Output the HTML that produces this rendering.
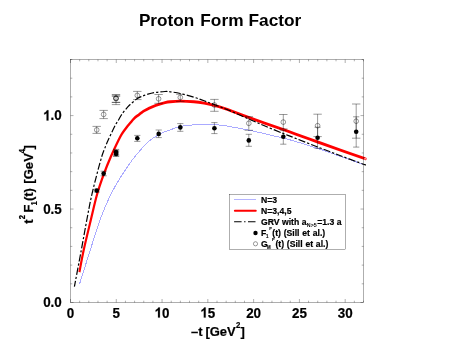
<!DOCTYPE html>
<html><head><meta charset="utf-8"><title>Proton Form Factor</title>
<style>
html,body{margin:0;padding:0;background:#fff;}
body{width:458px;height:354px;overflow:hidden;}
svg{display:block;will-change:transform;}
text{font-family:"Liberation Sans",sans-serif;font-weight:bold;fill:#000;}
</style></head><body>
<svg width="458" height="354" viewBox="0 0 458 354">
<rect width="458" height="354" fill="#fff"/>
<g font-size="17.3"><text transform="translate(138.9,26.4) scale(0.992,1)">Proton</text><text x="200.3" y="26.4">Form</text><text x="248.5" y="26.4">Factor</text></g>
<path d="M79.40 284.40 C81.22 278.67 86.87 260.73 90.30 250.00 C93.73 239.27 96.78 228.85 100.00 220.00 C103.22 211.15 106.10 204.13 109.60 196.90 C113.10 189.67 116.73 183.38 121.00 176.60 C125.27 169.82 130.35 162.27 135.20 156.20 C140.05 150.13 145.97 143.87 150.10 140.20 C154.23 136.53 157.52 135.62 160.00 134.20 C162.48 132.78 163.30 132.42 165.00 131.70 C166.70 130.98 167.65 130.77 170.20 129.90 C172.75 129.03 176.35 127.35 180.30 126.50 C184.25 125.65 189.93 125.17 193.90 124.80 C197.87 124.43 200.72 124.35 204.10 124.30 C207.48 124.25 210.72 124.25 214.20 124.50 C217.68 124.75 222.37 125.45 225.00 125.80 C227.63 126.15 226.05 125.88 230.00 126.60 C233.95 127.32 242.87 128.90 248.70 130.10 C254.53 131.30 259.20 132.45 265.00 133.80 C270.80 135.15 278.50 136.95 283.50 138.20 C288.50 139.45 289.30 139.60 295.00 141.30 C300.70 143.00 310.12 145.88 317.70 148.40 C325.28 150.92 332.87 153.72 340.50 156.40 C348.13 159.08 359.67 163.15 363.50 164.50" fill="none" stroke="#aaaaff" stroke-width="1" shape-rendering="crispEdges"/>
<g transform="scale(1,1.33)"><path d="M79.40 204.66 C80.12 201.88 81.80 194.51 83.70 187.97 C85.60 181.43 88.57 172.39 90.80 165.41 C93.03 158.43 94.92 151.87 97.10 146.09 C99.28 140.31 101.63 135.43 103.90 130.75 C106.17 126.08 108.25 122.29 110.70 118.05 C113.15 113.80 116.73 108.17 118.60 105.26 C120.47 102.36 120.55 102.21 121.90 100.60 C123.25 99.00 125.28 97.02 126.70 95.64 C128.12 94.26 129.18 93.41 130.40 92.33 C131.62 91.25 132.58 90.19 134.00 89.17 C135.42 88.16 137.33 87.17 138.90 86.24 C140.47 85.31 141.98 84.31 143.40 83.61 C144.82 82.91 145.33 82.77 147.40 82.03 C149.47 81.29 152.87 79.99 155.80 79.17 C158.73 78.36 162.60 77.59 165.00 77.14 C167.40 76.69 167.65 76.65 170.20 76.47 C172.75 76.28 176.35 76.02 180.30 76.02 C184.25 76.02 189.93 76.22 193.90 76.47 C197.87 76.72 200.72 77.06 204.10 77.52 C207.48 77.98 210.72 78.56 214.20 79.25 C217.68 79.94 222.37 81.03 225.00 81.65 C227.63 82.28 226.05 81.90 230.00 83.01 C233.95 84.11 239.78 85.85 248.70 88.27 C257.62 90.69 275.78 95.46 283.50 97.52 C291.22 99.57 289.30 99.06 295.00 100.60 C300.70 102.14 310.12 104.71 317.70 106.77 C325.28 108.82 332.87 110.91 340.50 112.93 C348.13 114.95 359.48 117.83 363.50 118.87 C367.52 119.91 364.42 119.12 364.60 119.17" fill="none" stroke="#ff0000" stroke-width="2.15"/></g>
<path d="M74.40 286.70 C75.55 280.58 79.23 261.12 81.30 250.00 C83.37 238.88 85.12 228.90 86.80 220.00 C88.48 211.10 89.70 204.28 91.40 196.60 C93.10 188.92 95.23 180.70 97.00 173.90 C98.77 167.10 100.55 160.45 102.00 155.80 C103.45 151.15 104.67 148.63 105.70 146.00 C106.73 143.37 106.65 143.37 108.20 140.00 C109.75 136.63 113.28 129.13 115.00 125.80 C116.72 122.47 117.35 121.93 118.50 120.00 C119.65 118.07 120.32 116.43 121.90 114.20 C123.48 111.97 126.45 108.37 128.00 106.60 C129.55 104.83 129.65 104.93 131.20 103.60 C132.75 102.27 135.50 99.82 137.30 98.60 C139.10 97.38 140.22 97.03 142.00 96.30 C143.78 95.57 145.70 94.85 148.00 94.20 C150.30 93.55 152.97 92.85 155.80 92.40 C158.63 91.95 162.60 91.60 165.00 91.50 C167.40 91.40 167.65 91.47 170.20 91.80 C172.75 92.13 176.35 92.60 180.30 93.50 C184.25 94.40 189.93 95.98 193.90 97.20 C197.87 98.42 200.72 99.58 204.10 100.80 C207.48 102.02 209.88 102.83 214.20 104.50 C218.52 106.17 224.25 108.38 230.00 110.80 C235.75 113.22 242.87 116.47 248.70 119.00 C254.53 121.53 259.20 123.57 265.00 126.00 C270.80 128.43 278.50 131.58 283.50 133.60 C288.50 135.62 289.30 135.87 295.00 138.10 C300.70 140.33 310.12 144.07 317.70 147.00 C325.28 149.93 332.87 152.83 340.50 155.70 C348.13 158.57 359.53 162.73 363.50 164.20 C367.47 165.67 364.17 164.45 364.30 164.50" fill="none" stroke="#000" stroke-width="1.2" stroke-dasharray="7.1 1.99 2.3 1.99" stroke-dashoffset="1.13"/>
<path d="M92.50 126.40h8.40M92.50 133.40h8.40M99.45 110.40h8.40M99.45 118.60h8.40M111.80 94.50h8.40M111.80 102.40h8.40M111.80 95.30h8.40M111.80 102.40h8.40M111.80 96.40h8.40M111.80 104.60h8.40M133.10 91.40h8.40M133.10 99.60h8.40M154.40 94.50h8.40M154.40 103.30h8.40M176.10 94.30h8.40M176.10 101.40h8.40M210.20 99.40h8.40M210.20 111.30h8.40M244.60 116.70h8.40M244.60 130.30h8.40M279.10 114.50h8.40M279.10 128.90h8.40M313.40 114.20h8.40M313.40 136.60h8.40M352.00 104.00h8.40M352.00 138.20h8.40M96.70 126.40V133.40M103.65 110.40V118.60M116.00 94.50V104.60M137.30 91.40V99.60M158.60 94.50V103.30M180.30 94.30V101.40M214.40 99.40V111.30M248.80 116.70V130.30M283.30 114.50V128.90M317.60 114.20V136.60M356.20 104.00V138.20M93.60 189.20h6.20M93.60 192.00h6.20M100.55 171.20h6.20M100.55 175.80h6.20M113.00 149.40h6.20M113.00 154.70h6.20M113.00 150.30h6.20M113.00 155.80h6.20M113.00 151.80h6.20M113.00 156.40h6.20M134.20 135.40h6.20M134.20 141.40h6.20M155.60 130.00h6.20M155.60 137.60h6.20M177.20 123.60h6.20M177.20 131.30h6.20M211.30 122.60h6.20M211.30 133.60h6.20M245.70 134.30h6.20M245.70 146.30h6.20M280.20 130.30h6.20M280.20 144.20h6.20M314.50 127.20h6.20M314.50 148.40h6.20M353.10 116.80h6.20M353.10 147.10h6.20M96.70 189.20V192.00M103.65 171.20V175.80M116.10 149.40V156.40M137.30 135.40V141.40M158.70 130.00V137.60M180.30 123.60V131.30M214.40 122.60V133.60M248.80 134.30V146.30M283.30 130.30V144.20M317.60 127.20V148.40M356.20 116.80V147.10" fill="none" stroke="#000" stroke-width="0.4"/>
<g fill="none" stroke="#000" stroke-width="0.4"><circle cx="96.70" cy="129.90" r="2.35"/><circle cx="103.65" cy="114.40" r="2.35"/><circle cx="116.00" cy="98.00" r="2.35"/><circle cx="116.00" cy="98.35" r="2.35"/><circle cx="116.00" cy="98.70" r="2.35"/><circle cx="137.30" cy="95.40" r="2.35"/><circle cx="158.60" cy="98.80" r="2.35"/><circle cx="180.30" cy="97.40" r="2.35"/><circle cx="214.40" cy="105.00" r="2.35"/><circle cx="248.80" cy="123.30" r="2.35"/><circle cx="283.30" cy="122.10" r="2.35"/><circle cx="317.60" cy="125.70" r="2.35"/><circle cx="356.20" cy="121.20" r="2.35"/></g>
<g fill="#000"><circle cx="96.70" cy="190.60" r="2.3"/><circle cx="103.65" cy="173.60" r="2.3"/><circle cx="116.10" cy="152.10" r="2.3"/><circle cx="116.10" cy="153.00" r="2.3"/><circle cx="116.10" cy="153.90" r="2.3"/><circle cx="137.30" cy="138.30" r="2.3"/><circle cx="158.70" cy="133.90" r="2.3"/><circle cx="180.30" cy="127.40" r="2.3"/><circle cx="214.40" cy="128.20" r="2.3"/><circle cx="248.80" cy="140.40" r="2.3"/><circle cx="283.30" cy="136.70" r="2.3"/><circle cx="317.60" cy="137.70" r="2.3"/><circle cx="356.20" cy="131.80" r="2.3"/></g>
<rect x="70.5" y="59.5" width="293.0" height="243.0" fill="none" stroke="#000" stroke-width="0.32"/>
<path d="M70.50 302.50v-3.50M70.50 59.50v3.50M79.66 302.50v-1.80M79.66 59.50v1.80M88.81 302.50v-1.80M88.81 59.50v1.80M97.97 302.50v-1.80M97.97 59.50v1.80M107.12 302.50v-1.80M107.12 59.50v1.80M116.28 302.50v-3.50M116.28 59.50v3.50M125.44 302.50v-1.80M125.44 59.50v1.80M134.59 302.50v-1.80M134.59 59.50v1.80M143.75 302.50v-1.80M143.75 59.50v1.80M152.91 302.50v-1.80M152.91 59.50v1.80M162.06 302.50v-3.50M162.06 59.50v3.50M171.22 302.50v-1.80M171.22 59.50v1.80M180.38 302.50v-1.80M180.38 59.50v1.80M189.53 302.50v-1.80M189.53 59.50v1.80M198.69 302.50v-1.80M198.69 59.50v1.80M207.84 302.50v-3.50M207.84 59.50v3.50M217.00 302.50v-1.80M217.00 59.50v1.80M226.16 302.50v-1.80M226.16 59.50v1.80M235.31 302.50v-1.80M235.31 59.50v1.80M244.47 302.50v-1.80M244.47 59.50v1.80M253.62 302.50v-3.50M253.62 59.50v3.50M262.78 302.50v-1.80M262.78 59.50v1.80M271.94 302.50v-1.80M271.94 59.50v1.80M281.09 302.50v-1.80M281.09 59.50v1.80M290.25 302.50v-1.80M290.25 59.50v1.80M299.41 302.50v-3.50M299.41 59.50v3.50M308.56 302.50v-1.80M308.56 59.50v1.80M317.72 302.50v-1.80M317.72 59.50v1.80M326.88 302.50v-1.80M326.88 59.50v1.80M336.03 302.50v-1.80M336.03 59.50v1.80M345.19 302.50v-3.50M345.19 59.50v3.50M354.34 302.50v-1.80M354.34 59.50v1.80M363.50 302.50v-1.80M363.50 59.50v1.80M70.50 302.50h3.00M363.50 302.50h-3.00M70.50 283.81h1.80M363.50 283.81h-1.80M70.50 265.12h1.80M363.50 265.12h-1.80M70.50 246.42h1.80M363.50 246.42h-1.80M70.50 227.73h1.80M363.50 227.73h-1.80M70.50 209.04h3.00M363.50 209.04h-3.00M70.50 190.35h1.80M363.50 190.35h-1.80M70.50 171.65h1.80M363.50 171.65h-1.80M70.50 152.96h1.80M363.50 152.96h-1.80M70.50 134.27h1.80M363.50 134.27h-1.80M70.50 115.58h3.00M363.50 115.58h-3.00M70.50 96.88h1.80M363.50 96.88h-1.80M70.50 78.19h1.80M363.50 78.19h-1.80M70.50 59.50h1.80M363.50 59.50h-1.80" fill="none" stroke="#000" stroke-width="0.32"/>
<g font-size="13" stroke="#000" stroke-width="0.2"><text font-size="13.4" transform="translate(66.77,317.60) scale(1,1.050)">0</text><text font-size="13.4" transform="translate(112.56,317.60) scale(1,1.050)">5</text><path transform="translate(154.61,317.60) scale(0.01340,-0.01407)" d="M393.6 0L256.3 0L256.3 517Q181 446.8 79.1 413L79.1 537.6Q132.8 555.2 195.8 604.2Q258.8 653.3 282.2 718.75L393.6 718.75Z" fill="#000" stroke="#000" stroke-width="15"/><text font-size="13.4" transform="translate(162.06,317.60) scale(1,1.050)">0</text><path transform="translate(200.39,317.60) scale(0.01340,-0.01407)" d="M393.6 0L256.3 0L256.3 517Q181 446.8 79.1 413L79.1 537.6Q132.8 555.2 195.8 604.2Q258.8 653.3 282.2 718.75L393.6 718.75Z" fill="#000" stroke="#000" stroke-width="15"/><text font-size="13.4" transform="translate(207.84,317.60) scale(1,1.050)">5</text><text font-size="13.4" transform="translate(246.17,317.60) scale(1,1.050)">20</text><text font-size="13.4" transform="translate(291.96,317.60) scale(1,1.050)">25</text><text font-size="13.4" transform="translate(337.74,317.60) scale(1,1.050)">30</text><text font-size="13.4" transform="translate(43.17,307.35) scale(1,1.050)">0.0</text><text font-size="13.4" transform="translate(43.17,213.89) scale(1,1.050)">0.5</text><path transform="translate(43.17,120.43) scale(0.01340,-0.01407)" d="M393.6 0L256.3 0L256.3 517Q181 446.8 79.1 413L79.1 537.6Q132.8 555.2 195.8 604.2Q258.8 653.3 282.2 718.75L393.6 718.75Z" fill="#000" stroke="#000" stroke-width="15"/><text font-size="13.4" transform="translate(50.62,120.43) scale(1,1.050)">.0</text>
<text transform="translate(191,336) scale(1,1.05)">–t<tspan dx="-0.75"> [GeV</tspan><tspan font-size="7.8" dy="-8" dx="0.25">2</tspan><tspan dy="8" dx="0.25">]</tspan></text>
<text transform="translate(32.9,223.7) rotate(-90) scale(1,1.05)">t<tspan font-size="7.8" dy="-8">2</tspan><tspan dy="8" dx="-1"> F</tspan><tspan font-size="8" dy="3.5" dx="-1.1" stroke-width="0.05">1</tspan><tspan dy="-3.5" dx="0.1">(t)</tspan><tspan dx="0.6" letter-spacing="0.08"> [GeV</tspan><tspan font-size="7.8" dy="-8" dx="0">4</tspan><tspan dy="8" dx="-0.6">]</tspan></text>
</g>
<rect x="229.5" y="194.5" width="116" height="55" fill="#fff" stroke="#000" stroke-width="0.32"/>
<path d="M234 199.5H255.9" stroke="#b4b4ff" stroke-width="1" shape-rendering="crispEdges"/>
<path d="M234.9 210.75H255.7" stroke="#ff0000" stroke-width="2.1" stroke-linecap="round"/>
<path d="M234.1 221.75H255.7" stroke="#000" stroke-width="1.1" stroke-dasharray="7.5 2.5 1.4 2.5"/>
<circle cx="255.5" cy="233" r="2.2" fill="#000"/>
<circle cx="255.5" cy="243.8" r="2.1" fill="none" stroke="#000" stroke-width="0.4"/>
<g font-size="8.65" stroke="#000" stroke-width="0.2">
<text transform="translate(261.0,203) scale(1,1.06)">N=3</text>
<text transform="translate(261.0,213.9) scale(1,1.06)">N=3,4,5</text>
<text transform="translate(261.0,224.7) scale(1,1.06)">GRV with a<tspan font-size="5.3" dy="1.8" dx="0.4" stroke="none">N&gt;5</tspan><tspan dy="-1.8" dx="0.5">=1.3 a</tspan></text>
<text transform="translate(0,235.6) scale(1,1.06)"><tspan x="261.0">F</tspan><tspan x="266.0" font-size="4.4" dy="1.9" stroke-width="0.12">1</tspan><tspan x="269.3" font-size="4" dy="-7.6" stroke-width="0.12">P</tspan><tspan x="272.3" dy="5.7" word-spacing="0.35">(t) (Sill et al.)</tspan></text>
<text transform="translate(0,246.6) scale(1,1.06)"><tspan x="261.0">G</tspan><tspan x="267.0" font-size="4.4" dy="2" stroke-width="0.12">M</tspan><tspan x="272.1" font-size="4" dy="-6.9" stroke-width="0.12">P</tspan><tspan x="275.4" dy="4.9" word-spacing="0.35">(t) (Sill et al.)</tspan></text>
</g>
</svg>
</body></html>
